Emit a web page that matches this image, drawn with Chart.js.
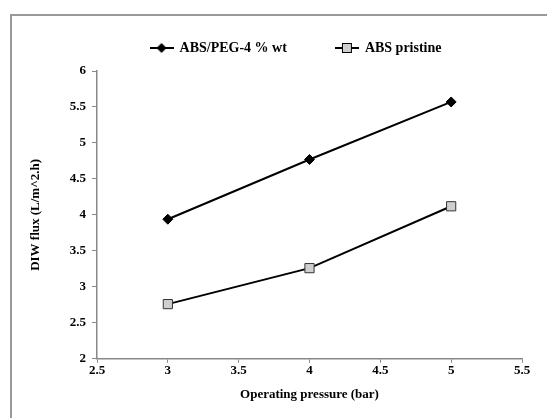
<!DOCTYPE html>
<html>
<head>
<meta charset="utf-8">
<script src="https://cdn.jsdelivr.net/npm/chart.js@4"></script>
<style>
  html, body { margin: 0; padding: 0; background: #fff; }
  #wrap { position: relative; width: 547px; height: 418px; }
  #frame { position: absolute; left: 10px; top: 14px; right: 0; bottom: -2px;
           border-left: 2px solid #999; border-top: 2px solid #999; }
  canvas { position: absolute; left: 0; top: 0; }
</style>
</head>
<body>
<div id="wrap">
  <div id="frame"></div>
  <canvas id="c" width="547" height="418"></canvas>
</div>
<script>
// pressure in bar
const pressure = [3, 4, 5];
const pegFlux = [3.94, 4.77, 5.57];
const pristineFlux = [2.76, 3.26, 4.12];
const seriesNames = ['ABS/PEG-4 % wt', 'ABS pristine'];

const font = { family: '"Liberation Serif", "Times New Roman", serif', weight: 'bold', size: 13 };
const legendFont = { family: font.family, weight: 'bold', size: 14 };

// legend glyph: a short line with the marker in the middle
function legendIcon(kind) {
  const cv = document.createElement('canvas');
  cv.width = 24; cv.height = 12;
  const g = cv.getContext('2d');
  g.strokeStyle = '#000'; g.lineWidth = 2;
  g.beginPath(); g.moveTo(0, 6); g.lineTo(24, 6); g.stroke();
  if (kind === 'diamond') {
    g.fillStyle = '#000';
    g.beginPath(); g.moveTo(12, 1); g.lineTo(17, 6); g.lineTo(12, 11); g.lineTo(7, 6); g.closePath(); g.fill();
  } else {
    g.lineWidth = 1;
    g.fillStyle = '#cfcfcf';
    g.fillRect(7.5, 1.5, 9, 9);
    g.strokeRect(7.5, 1.5, 9, 9);
  }
  return cv;
}
const icons = [legendIcon('diamond'), legendIcon('square')];
// blank room after each legend entry (to space them like the original)
const gap = ['\u00a0'.repeat(8), '\u00a0'.repeat(17)];

const toXY = (ys) => pressure.map((x, i) => ({ x: x, y: ys[i] }));

new Chart(document.getElementById('c'), {
  type: 'scatter',
  data: {
    datasets: [
      { label: seriesNames[0], data: toXY(pegFlux), showLine: true,
        borderColor: '#000', borderWidth: 2, pointStyle: 'rectRot', pointRadius: 5,
        pointBackgroundColor: '#000', pointBorderColor: '#000', pointBorderWidth: 1 },
      { label: seriesNames[1], data: toXY(pristineFlux), showLine: true,
        borderColor: '#000', borderWidth: 2, pointStyle: 'rect', pointRadius: 6.5,
        pointBackgroundColor: '#cfcfcf', pointBorderColor: '#333', pointBorderWidth: 1 }
    ]
  },
  options: {
    responsive: false,
    animation: false,
    layout: { padding: { left: 20, right: 25, top: 20, bottom: 16 } },
    plugins: {
      tooltip: { enabled: false },
      legend: {
        position: 'top',
        align: 'end',
        labels: {
          color: '#000', font: legendFont, usePointStyle: true, pointStyleWidth: 22, padding: 21,
          generateLabels: (chart) => chart.data.datasets.map((d, i) => ({
            text: d.label + gap[i], pointStyle: icons[i], datasetIndex: i,
            fontColor: '#000', lineWidth: 0, strokeStyle: 'transparent', fillStyle: 'transparent'
          }))
        }
      }
    },
    scales: {
      x: {
        type: 'linear', min: 2.5, max: 5.5,
        ticks: { stepSize: 0.5, color: '#000', font: font, padding: 0, callback: (v) => String(v) },
        grid: { drawOnChartArea: false, tickLength: 4, color: '#888' },
        border: { color: '#888', width: 1.5 },
        title: { display: true, text: 'Operating pressure (bar)', color: '#000', font: font,
                 padding: { top: 8, bottom: 0 } }
      },
      // empty strip between legend and plot
      xTop: {
        type: 'linear', position: 'top', min: 2.5, max: 5.5,
        ticks: { display: false }, grid: { display: false }, border: { display: false },
        afterFit: (s) => { s.height = 6; }
      },
      y: {
        min: 2, max: 6,
        ticks: { stepSize: 0.5, color: '#000', font: font, padding: 6, callback: (v) => String(v) },
        grid: { drawOnChartArea: false, tickLength: 5, color: '#888' },
        border: { color: '#888', width: 1.5 },
        title: { display: true, text: 'DIW flux (L/m^2.h)', color: '#000', font: font, padding: 8 },
        afterFit: (s) => { s.width = 77; }
      }
    }
  }
});
</script>
</body>
</html>
